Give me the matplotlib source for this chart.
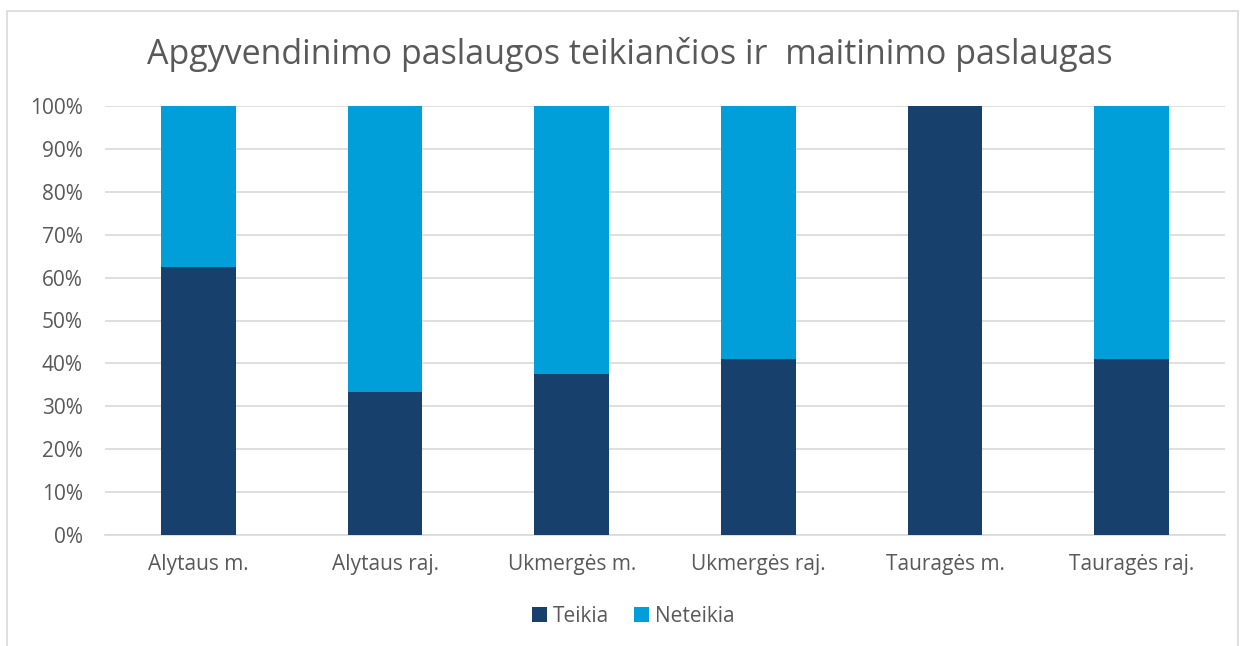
import matplotlib
matplotlib.use("Agg")
import matplotlib.pyplot as plt
from matplotlib.patches import Rectangle
import numpy as np

categories = ["Alytaus m.", "Alytaus raj.", "Ukmergės m.", "Ukmergės raj.", "Tauragės m.", "Tauragės raj."]
teikia = [62.5, 33.3, 37.5, 41.0, 100.0, 41.0]
neteikia = [37.5, 66.7, 62.5, 59.0, 0.0, 59.0]
series_names = ["Teikia", "Neteikia"]
title = "Apgyvendinimo paslaugos teikiančios ir  maitinimo paslaugas"

plt.rcParams['font.family'] = ['Open Sans', 'DejaVu Sans']
W, H = 1241, 646
fig = plt.figure(figsize=(W/100, H/100), dpi=100)
fig.patches.append(Rectangle((7/W, -0.05), (1238-7)/W, 1.05-11/H, transform=fig.transFigure,
                             fill=False, edgecolor="#D9D9D9", linewidth=1.2))
ax = fig.add_axes([105/W, 1-535/H, (1225-105)/W, (535-106)/H])

x = np.arange(len(categories))
c1, c2 = "#17406D", "#009FDA"
ax.bar(x, teikia, width=0.4, color=c1, label=series_names[0], zorder=3)
ax.bar(x, neteikia, width=0.4, bottom=teikia, color=c2, label=series_names[1], zorder=3)

ax.set_xlim(-0.5, len(categories)-0.5)
ax.set_ylim(0, 100)
ax.set_yticks(np.arange(0, 101, 10))
ax.set_yticklabels([f"{v}%" for v in range(0, 101, 10)])
ax.set_xticks(x)
ax.set_xticklabels(categories)
ax.yaxis.grid(True, color="#D9D9D9", linewidth=1.2, zorder=0)
ax.set_axisbelow(True)
for s in ["top", "right", "left"]:
    ax.spines[s].set_visible(False)
ax.spines["bottom"].set_color("#D9D9D9")
ax.spines["bottom"].set_linewidth(1.2)
ax.tick_params(axis="both", length=0, colors="#595959", labelsize=15)
ax.tick_params(axis="y", pad=16)
ax.tick_params(axis="x", pad=14)

fig.text(630/W, 1-55/H, title, ha="center", va="center", fontsize=24.5, color="#595959")
ax.legend(loc="center", bbox_to_anchor=(0.472, -0.19), ncol=2, frameon=False, fontsize=15,
          labelcolor="#595959", handlelength=0.7, handleheight=0.7, columnspacing=1.2, handletextpad=0.3)

fig.savefig("out.png", dpi=100)
